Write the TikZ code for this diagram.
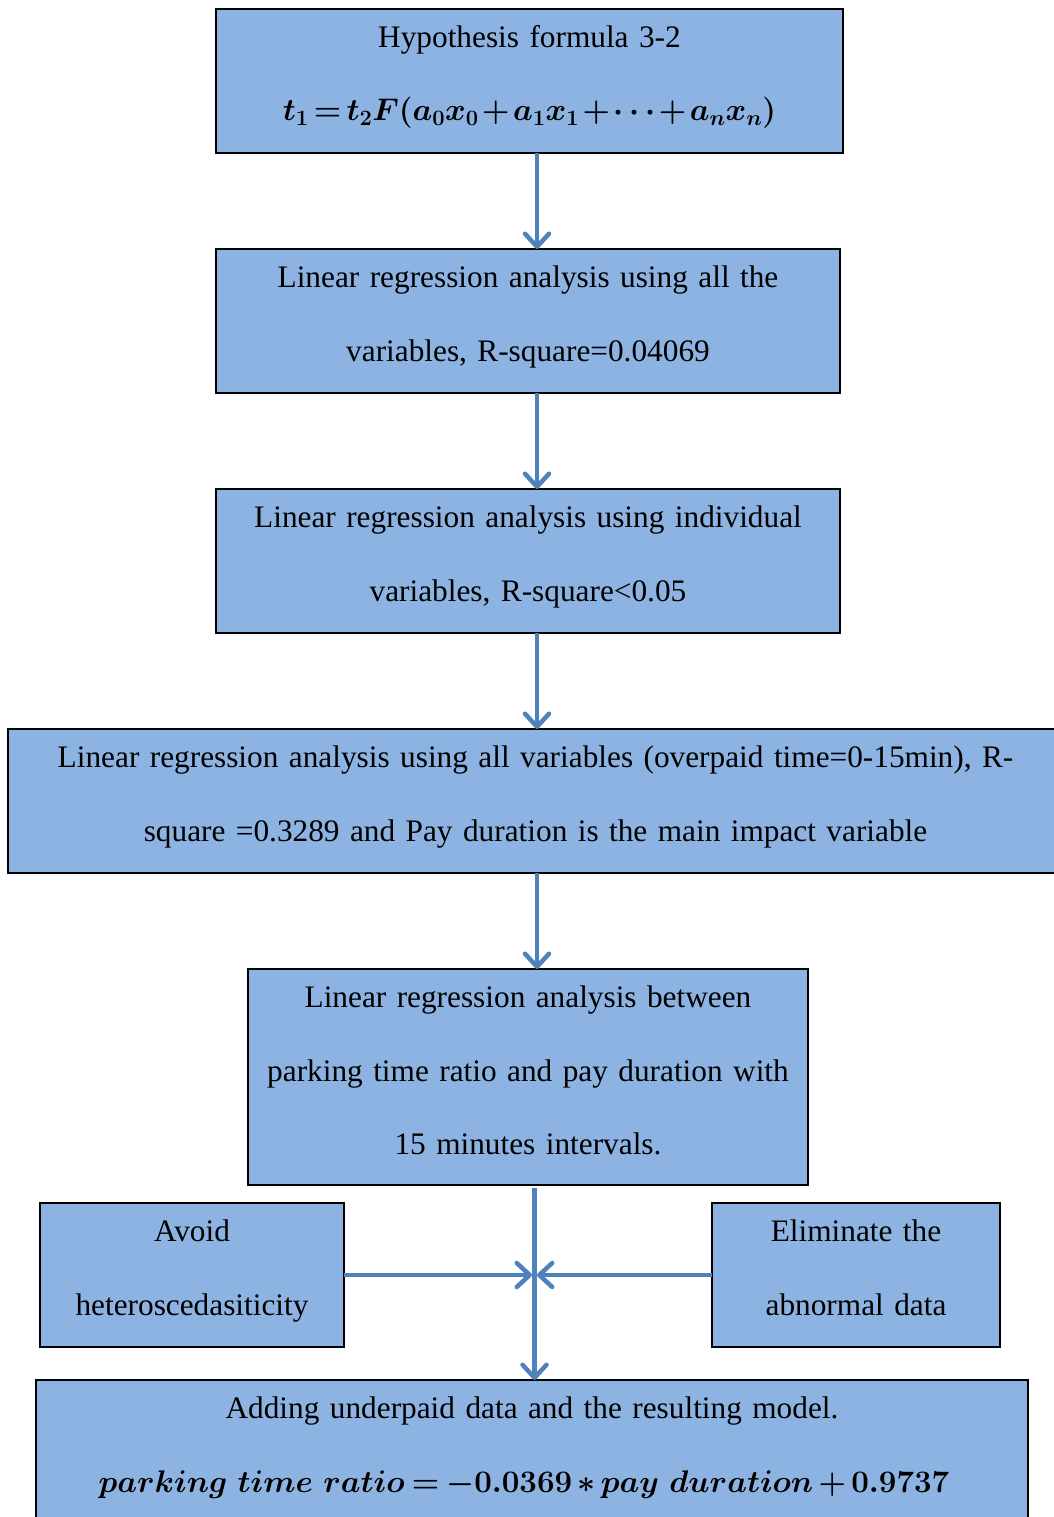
\documentclass[tikz,border=0pt]{standalone}
\usepackage{fix-cm}
\usepackage{amsmath}
\usepackage{bm}
\usepackage{fontspec}
\setmainfont{Liberation Serif}
\usetikzlibrary{positioning,arrows.meta}
\definecolor{boxfill}{HTML}{8DB3E2}
\definecolor{flowblue}{HTML}{4F81BD}
\newcommand{\tightmath}{\medmuskip=2mu\thickmuskip=3mu}

\begin{document}
\begin{tikzpicture}
		[x=1pt,y=1pt,
		stage/.style={rectangle,draw=black,fill=boxfill,line width=1.5pt,inner sep=0pt,outer sep=0pt,
			align=center,font={\fontsize{31.3pt}{73.5pt}\selectfont},
			text height=21.5pt,text depth=88.5pt,minimum height=144pt},
		tall/.style={text depth=160.5pt,minimum height=216pt},
		flow/.style={draw=flowblue,line width=4.5pt,-{Straight Barb[length=13pt,width=24pt,round]}}]
		\useasboundingbox (0,0) rectangle (1053,-1517);

		\node [stage,minimum width=627pt,text width=600pt] (b1) at (529.5,-81)
			{Hypothesis formula 3-2\\$\tightmath\boldsymbol{t_1 = t_2F(a_0x_0 + a_1x_1 + \cdots + a_nx_n)}$};
		\node [stage,minimum width=624pt,text width=600pt] (b2) [below=96pt of b1,xshift=-1.5pt]
			{Linear regression analysis using all the\\variables, R-square=0.04069};
		\node [stage,minimum width=624pt,text width=600pt] (b3) [below=96pt of b2]
			{Linear regression analysis using individual\\variables, R-square<0.05};
		\node [stage,minimum width=1055pt,text width=1035pt] (b4) [below=96pt of b3,xshift=7.5pt]
			{Linear regression analysis using all variables (overpaid time=0-15min), R-\\square =0.3289 and Pay duration is the main impact variable};
		\node [stage,tall,minimum width=560pt,text width=540pt] (b5) [below=96pt of b4,xshift=-7.5pt]
			{Linear regression analysis between\\parking time ratio and pay duration with\\15 minutes intervals.};
		\node [stage,minimum width=304pt,text width=290pt] (b6) at (192,-1275)
			{Avoid\\heteroscedasiticity};
		\node [stage,minimum width=288pt,text width=270pt] (b7) at (856,-1275)
			{Eliminate the\\abnormal data};
		\node [stage,minimum width=992pt,text width=970pt] (b8) [below=195pt of b5,xshift=4pt]
			{Adding underpaid data and the resulting model.\\\hspace*{-16pt}$\medmuskip=3mu\thickmuskip=4mu\boldsymbol{parking\ time\ ratio = -0.0369 \ast pay\ duration + 0.9737}$};

		\coordinate (ax) at (537,0);
		\coordinate (bx) at (534.5,0);
		\coordinate (lhit) at (532,-1275);
		\coordinate (rhit) at (537,-1275);

		\draw [flow] (b1.south -| ax) -- (b2.north -| ax);
		\draw [flow] (b2.south -| ax) -- (b3.north -| ax);
		\draw [flow] (b3.south -| ax) -- (b4.north -| ax);
		\draw [flow] (b4.south -| ax) -- (b5.north -| ax);
		\draw [flow] ([yshift=-3pt]b5.south -| bx) -- (b8.north -| bx);
		\draw [flow] (b6.east) -- (lhit);
		\draw [flow] (b7.west) -- (rhit);

	\end{tikzpicture}
\end{document}
